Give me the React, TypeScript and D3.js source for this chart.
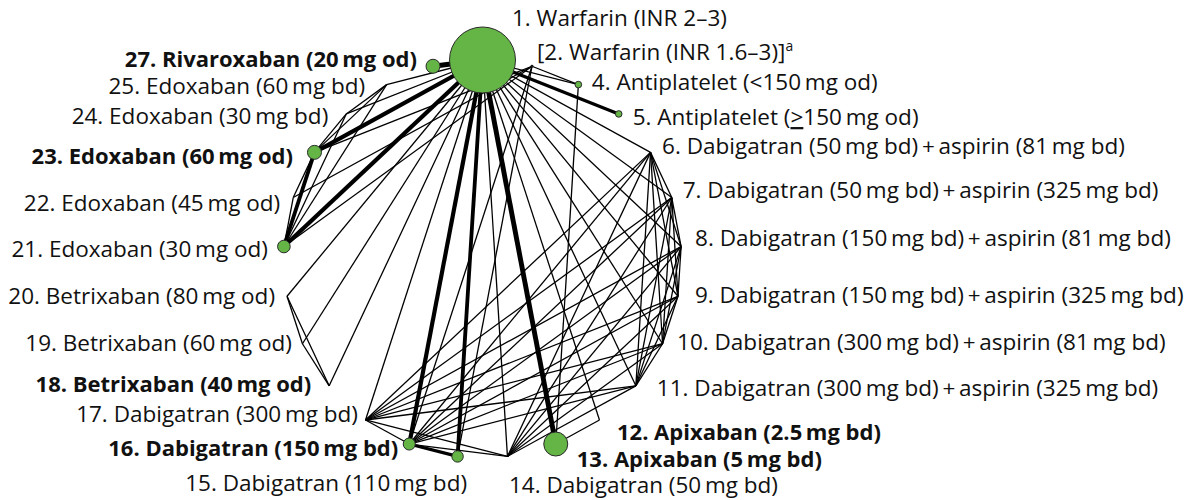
import React, { useRef, useEffect } from 'react';
import * as d3 from 'd3';

// treatments, in the order they sit round the circle (clockwise from the top)
const nodeIds = [1, 2, 4, 5, 6, 7, 8, 9, 10, 11, 12, 13, 14, 15, 16, 17, 18, 19, 20, 21, 22, 23, 24, 25, 27];
const nodeNames = [
  '1. Warfarin (INR 2–3)',
  '[2. Warfarin (INR 1.6–3)]',
  '4. Antiplatelet (<150\u2009mg od)',
  '5. Antiplatelet (≥150\u2009mg od)',
  '6. Dabigatran (50\u2009mg bd)\u2009+\u2009aspirin (81\u2009mg bd)',
  '7. Dabigatran (50\u2009mg bd)\u2009+\u2009aspirin (325\u2009mg bd)',
  '8. Dabigatran (150\u2009mg bd)\u2009+\u2009aspirin (81\u2009mg bd)',
  '9. Dabigatran (150\u2009mg bd)\u2009+\u2009aspirin (325\u2009mg bd)',
  '10. Dabigatran (300\u2009mg bd)\u2009+\u2009aspirin (81\u2009mg bd)',
  '11. Dabigatran (300\u2009mg bd)\u2009+\u2009aspirin (325\u2009mg bd)',
  '12. Apixaban (2.5\u2009mg bd)',
  '13. Apixaban (5\u2009mg bd)',
  '14. Dabigatran (50\u2009mg bd)',
  '15. Dabigatran (110\u2009mg bd)',
  '16. Dabigatran (150\u2009mg bd)',
  '17. Dabigatran (300\u2009mg bd)',
  '18. Betrixaban (40\u2009mg od)',
  '19. Betrixaban (60\u2009mg od)',
  '20. Betrixaban (80\u2009mg od)',
  '21. Edoxaban (30\u2009mg od)',
  '22. Edoxaban (45\u2009mg od)',
  '23. Edoxaban (60\u2009mg od)',
  '24. Edoxaban (30\u2009mg bd)',
  '25. Edoxaban (60\u2009mg bd)',
  '27. Rivaroxaban (20\u2009mg od)',
];
// relative amount of evidence per node (drives circle area)
const nodeSizes = [30, 0.06, 0.3, 0.3, 0, 0, 0, 0, 0, 0, 0, 3.97, 0, 0.9, 1.0, 0, 0, 0, 0, 1.1, 0, 1.35, 0, 0, 1.35];
const licensedIds = [12, 13, 16, 18, 23, 27];
const footnoteIds = [2];

// arms of the trials (each trial links all its arms)
const trialArms = [
  [1, 6, 7, 8, 9, 10, 11, 14, 16, 17],
  [1, 18, 19, 20],
  [1, 21, 23, 24, 25],
  [2, 21, 22, 23],
  [1, 21, 23],
  [1, 12, 13],
  [1, 15, 16],
  [2, 15, 16],
  [4, 13],
  [1, 27],
  [1, 4],
  [1, 5],
  [2, 4],
];
// comparisons with more evidence (thicker lines)
const heavyFrom = [1, 1, 1, 1, 21, 1, 1, 1, 15];
const heavyTo = [13, 27, 23, 21, 23, 16, 15, 5, 16];
const heavyWeight = [5, 5, 4.3, 4.3, 3.8, 4.2, 3.8, 3.2, 3.2];

// label placement: [anchor, dx, dy] from the node
const labelPos = {
  1: ['start', 29.5, -42], 2: ['start', 5, -14], 4: ['start', 13.5, -2.5], 5: ['start', 14, 3],
  6: ['start', 11.5, -6], 7: ['start', 11, -8], 8: ['start', 14, -8.5], 9: ['start', 17, -1.5],
  10: ['start', 14.5, -1.5], 11: ['start', 21, 2], 12: ['start', 17.5, 11.5], 13: ['start', 21, 14.5],
  14: ['start', 1.5, 28], 15: ['end', 9.5, 26.5], 16: ['end', -11, 4], 17: ['end', -7.5, -6],
  18: ['end', -18, -2], 19: ['end', -10.5, -0.5], 20: ['end', -12, 0], 21: ['end', -16, 2.5],
  22: ['end', -13, 5.5], 23: ['end', -21.5, 4], 24: ['end', -18, 2], 25: ['end', -21.5, 1.5],
  27: ['end', -16, -7],
};

const W = 1198;
const H = 500;
const FONT = 22.5;
const FONT_BOLD = 22;

const App = () => {
  const svgRef = useRef(null);

  useEffect(() => {
    const svg = d3.select(svgRef.current);
    svg.selectAll('*').remove();

    const cx = 482.5, cy = 259, R = 199;
    const angle = d3.scaleLinear().domain([0, nodeIds.length]).range([-Math.PI / 2, 1.5 * Math.PI]);
    const radius = d3.scaleSqrt().domain([0, d3.max(nodeSizes)]).range([0, 33]);
    const width = d3.scaleLinear().domain([1, 5]).range([1.3, 4.9]);

    const nodes = nodeIds.map((id, i) => ({
      id,
      name: nodeNames[i],
      r: radius(nodeSizes[i]),
      x: cx + R * Math.cos(angle(i)),
      y: cy + R * Math.sin(angle(i)),
    }));
    const byId = new Map(nodes.map(n => [n.id, n]));

    // unique comparisons
    const edgeMap = new Map();
    trialArms.forEach(arms => {
      for (let a = 0; a < arms.length; a++) {
        for (let b = a + 1; b < arms.length; b++) {
          const k = `${Math.min(arms[a], arms[b])}-${Math.max(arms[a], arms[b])}`;
          if (!edgeMap.has(k)) edgeMap.set(k, { s: arms[a], t: arms[b], w: 1 });
        }
      }
    });
    heavyFrom.forEach((f, i) => {
      const k = `${Math.min(f, heavyTo[i])}-${Math.max(f, heavyTo[i])}`;
      edgeMap.set(k, { s: f, t: heavyTo[i], w: heavyWeight[i] });
    });
    const edges = Array.from(edgeMap.values()).sort((a, b) => a.w - b.w);

    svg.append('rect').attr('width', W).attr('height', H).attr('fill', '#fff');

    svg.append('g')
      .selectAll('line')
      .data(edges)
      .enter()
      .append('line')
      .attr('x1', d => byId.get(d.s).x)
      .attr('y1', d => byId.get(d.s).y)
      .attr('x2', d => byId.get(d.t).x)
      .attr('y2', d => byId.get(d.t).y)
      .attr('stroke', '#000')
      .attr('stroke-width', d => width(d.w));

    svg.append('g')
      .selectAll('circle')
      .data(nodes.filter(n => n.r > 0))
      .enter()
      .append('circle')
      .attr('cx', d => d.x)
      .attr('cy', d => d.y)
      .attr('r', d => d.r)
      .attr('fill', d => (d.r < 2 ? '#1a1a1a' : '#64b446'))
      .attr('stroke', '#2a2a2a')
      .attr('stroke-width', d => (d.r < 2 ? 0 : 1));

    const labels = svg.append('g')
      .style('font-family', '"Open Sans", "Noto Sans", sans-serif')
      .attr('fill', '#111');

    nodes.forEach(n => {
      const [anchor, dx, dy] = labelPos[n.id];
      const bold = licensedIds.includes(n.id);
      const t = labels.append('text')
        .attr('x', n.x + dx)
        .attr('y', n.y + dy + FONT * 0.36)
        .attr('text-anchor', anchor)
        .style('font-size', `${bold ? FONT_BOLD : FONT}px`)
        .attr('font-weight', bold ? 700 : 400);
      if (n.name.includes('≥')) {
        const [pre, post] = n.name.split('≥');
        t.append('tspan').text(pre);
        t.append('tspan').style('text-decoration', 'underline').text('>');
        t.append('tspan').text(post);
      } else {
        t.append('tspan').text(n.name);
      }
      if (footnoteIds.includes(n.id)) {
        t.append('tspan')
          .attr('font-size', FONT * 0.62)
          .attr('dy', -FONT * 0.4)
          .text('a');
      }
    });
  }, []);

  return (
    <svg
      ref={svgRef}
      width={W}
      height={H}
      style={{ position: 'absolute', left: 0, top: 0 }}
    />
  );
};

export default App;
